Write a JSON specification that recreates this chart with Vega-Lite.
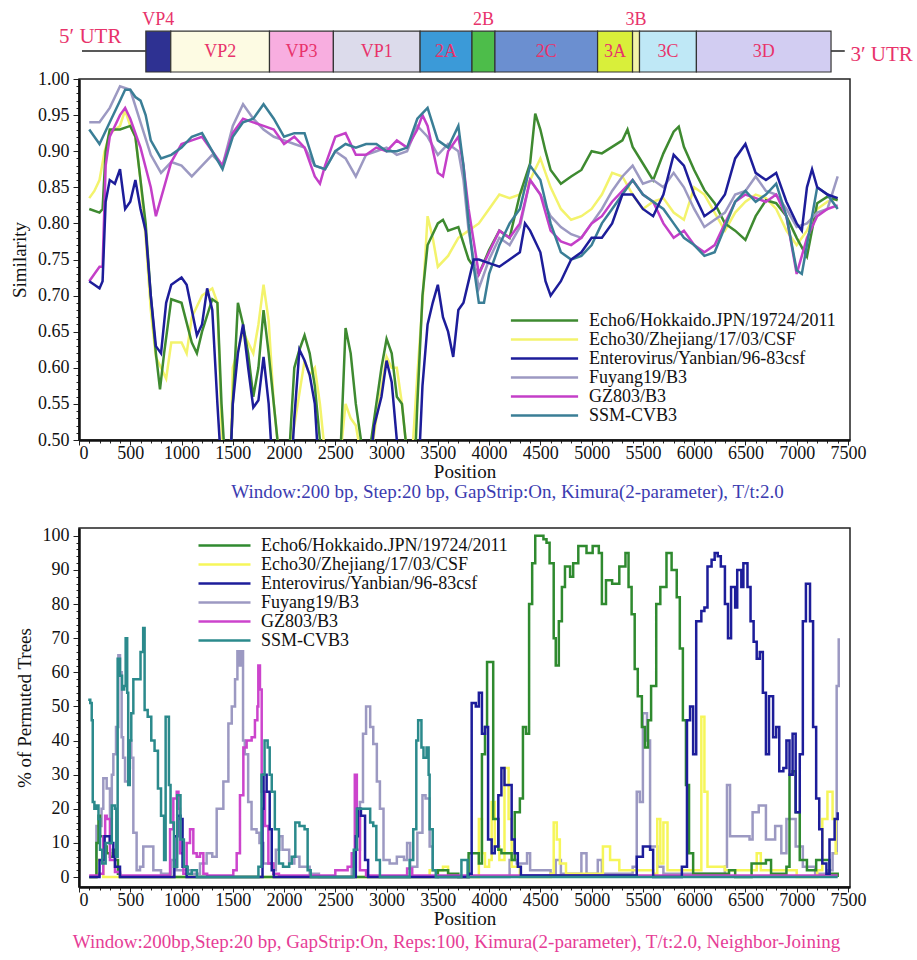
{
"$schema":"https://vega.github.io/schema/vega-lite/v6.json",
"padding":{"left":9,"top":0,"right":0,"bottom":0},
"config":{
"font":"Liberation Serif",
"view":{"stroke":"#222","strokeWidth":1.5},
"axis":{"domainColor":"#111","domainWidth":2.5,"tickColor":"#222","tickWidth":1,"labelColor":"#111","labelFont":"Liberation Serif","labelFontSize":18,"titleFont":"Liberation Serif","titleFontSize":19,"titleFontWeight":"normal","titleColor":"#111","grid":false,"labelOverlap":false},
"legend":{"title":null,"labelFont":"Liberation Serif","labelFontSize":18,"labelColor":"#111","symbolStrokeWidth":2.5,"rowPadding":0,"padding":0,"labelLimit":400,"symbolSize":256},
"title":{"font":"Liberation Serif","fontSize":19,"fontWeight":"normal"}
},
"datasets":{
"genes":[{"gene":"VP4","start":652,"end":895},{"gene":"VP2","start":895,"end":1858},{"gene":"VP3","start":1858,"end":2481},{"gene":"VP1","start":2481,"end":3327},{"gene":"2A","start":3327,"end":3833},{"gene":"2B","start":3833,"end":4057},{"gene":"2C","start":4057,"end":5058},{"gene":"3A","start":5058,"end":5399},{"gene":"3B","start":5399,"end":5467},{"gene":"3C","start":5467,"end":6022},{"gene":"3D","start":6022,"end":7335}],
"utr":[{"name":"5′ UTR","start":29,"end":652,"lx":110},{"name":"3′ UTR","start":7335,"end":7469,"lx":7525}],
"sim":[
{"s":"b","x":100,"y":0.835},{"s":"b","x":150,"y":0.845},{"s":"b","x":200,"y":0.86},{"s":"b","x":250,"y":0.9},{"s":"b","x":300,"y":0.925},{"s":"b","x":400,"y":0.935},{"s":"b","x":450,"y":0.957},{"s":"b","x":500,"y":0.935},{"s":"b","x":550,"y":0.92},{"s":"b","x":600,"y":0.86},{"s":"b","x":650,"y":0.78},{"s":"b","x":700,"y":0.68},{"s":"b","x":750,"y":0.615},{"s":"b","x":800,"y":0.6},{"s":"b","x":850,"y":0.585},{"s":"b","x":900,"y":0.635},{"s":"b","x":1000,"y":0.635},{"s":"b","x":1050,"y":0.62},{"s":"b","x":1100,"y":0.67},{"s":"b","x":1200,"y":0.7},{"s":"b","x":1300,"y":0.71},{"s":"b","x":1350,"y":0.69},{"s":"b","x":1400,"y":0.48},{"s":"b","x":1480,"y":0.48},{"s":"b","x":1500,"y":0.6},{"s":"b","x":1600,"y":0.65},{"s":"b","x":1700,"y":0.62},{"s":"b","x":1750,"y":0.66},{"s":"b","x":1800,"y":0.715},{"s":"b","x":1850,"y":0.665},{"s":"b","x":1900,"y":0.55},{"s":"b","x":1950,"y":0.48},{"s":"b","x":2050,"y":0.48},{"s":"b","x":2100,"y":0.52},{"s":"b","x":2200,"y":0.61},{"s":"b","x":2250,"y":0.59},{"s":"b","x":2300,"y":0.6},{"s":"b","x":2350,"y":0.55},{"s":"b","x":2400,"y":0.48},{"s":"b","x":2550,"y":0.48},{"s":"b","x":2600,"y":0.55},{"s":"b","x":2650,"y":0.53},{"s":"b","x":2700,"y":0.52},{"s":"b","x":2750,"y":0.48},{"s":"b","x":2850,"y":0.48},{"s":"b","x":2900,"y":0.53},{"s":"b","x":3000,"y":0.615},{"s":"b","x":3050,"y":0.6},{"s":"b","x":3100,"y":0.6},{"s":"b","x":3150,"y":0.55},{"s":"b","x":3200,"y":0.48},{"s":"b","x":3250,"y":0.48},{"s":"b","x":3300,"y":0.59},{"s":"b","x":3350,"y":0.69},{"s":"b","x":3400,"y":0.81},{"s":"b","x":3450,"y":0.78},{"s":"b","x":3500,"y":0.74},{"s":"b","x":3600,"y":0.755},{"s":"b","x":3700,"y":0.78},{"s":"b","x":3800,"y":0.79},{"s":"b","x":3900,"y":0.8},{"s":"b","x":4000,"y":0.82},{"s":"b","x":4100,"y":0.84},{"s":"b","x":4200,"y":0.835},{"s":"b","x":4300,"y":0.84},{"s":"b","x":4400,"y":0.86},{"s":"b","x":4500,"y":0.89},{"s":"b","x":4600,"y":0.85},{"s":"b","x":4700,"y":0.82},{"s":"b","x":4800,"y":0.805},{"s":"b","x":4900,"y":0.81},{"s":"b","x":5000,"y":0.82},{"s":"b","x":5100,"y":0.84},{"s":"b","x":5200,"y":0.87},{"s":"b","x":5300,"y":0.865},{"s":"b","x":5400,"y":0.84},{"s":"b","x":5500,"y":0.82},{"s":"b","x":5600,"y":0.83},{"s":"b","x":5700,"y":0.835},{"s":"b","x":5800,"y":0.815},{"s":"b","x":5900,"y":0.805},{"s":"b","x":6000,"y":0.85},{"s":"b","x":6100,"y":0.84},{"s":"b","x":6200,"y":0.815},{"s":"b","x":6300,"y":0.79},{"s":"b","x":6400,"y":0.815},{"s":"b","x":6500,"y":0.83},{"s":"b","x":6600,"y":0.84},{"s":"b","x":6700,"y":0.835},{"s":"b","x":6800,"y":0.82},{"s":"b","x":6900,"y":0.79},{"s":"b","x":7000,"y":0.77},{"s":"b","x":7100,"y":0.79},{"s":"b","x":7200,"y":0.82},{"s":"b","x":7300,"y":0.83},{"s":"b","x":7400,"y":0.835},
{"s":"a","x":100,"y":0.82},{"s":"a","x":200,"y":0.815},{"s":"a","x":230,"y":0.82},{"s":"a","x":260,"y":0.9},{"s":"a","x":300,"y":0.93},{"s":"a","x":400,"y":0.93},{"s":"a","x":500,"y":0.935},{"s":"a","x":550,"y":0.92},{"s":"a","x":600,"y":0.86},{"s":"a","x":650,"y":0.8},{"s":"a","x":700,"y":0.7},{"s":"a","x":750,"y":0.62},{"s":"a","x":790,"y":0.57},{"s":"a","x":830,"y":0.62},{"s":"a","x":900,"y":0.695},{"s":"a","x":1000,"y":0.69},{"s":"a","x":1100,"y":0.635},{"s":"a","x":1150,"y":0.62},{"s":"a","x":1200,"y":0.65},{"s":"a","x":1300,"y":0.695},{"s":"a","x":1350,"y":0.69},{"s":"a","x":1390,"y":0.55},{"s":"a","x":1420,"y":0.48},{"s":"a","x":1480,"y":0.48},{"s":"a","x":1500,"y":0.55},{"s":"a","x":1550,"y":0.69},{"s":"a","x":1600,"y":0.66},{"s":"a","x":1650,"y":0.62},{"s":"a","x":1700,"y":0.56},{"s":"a","x":1750,"y":0.6},{"s":"a","x":1800,"y":0.68},{"s":"a","x":1850,"y":0.62},{"s":"a","x":1900,"y":0.55},{"s":"a","x":1950,"y":0.48},{"s":"a","x":2050,"y":0.48},{"s":"a","x":2100,"y":0.6},{"s":"a","x":2150,"y":0.625},{"s":"a","x":2200,"y":0.645},{"s":"a","x":2250,"y":0.62},{"s":"a","x":2300,"y":0.575},{"s":"a","x":2350,"y":0.5},{"s":"a","x":2400,"y":0.48},{"s":"a","x":2550,"y":0.48},{"s":"a","x":2600,"y":0.655},{"s":"a","x":2650,"y":0.62},{"s":"a","x":2700,"y":0.55},{"s":"a","x":2750,"y":0.5},{"s":"a","x":2800,"y":0.48},{"s":"a","x":2850,"y":0.5},{"s":"a","x":2900,"y":0.55},{"s":"a","x":2950,"y":0.6},{"s":"a","x":3000,"y":0.64},{"s":"a","x":3050,"y":0.62},{"s":"a","x":3100,"y":0.56},{"s":"a","x":3150,"y":0.55},{"s":"a","x":3200,"y":0.48},{"s":"a","x":3280,"y":0.48},{"s":"a","x":3300,"y":0.55},{"s":"a","x":3350,"y":0.7},{"s":"a","x":3400,"y":0.77},{"s":"a","x":3500,"y":0.8},{"s":"a","x":3550,"y":0.805},{"s":"a","x":3600,"y":0.79},{"s":"a","x":3700,"y":0.795},{"s":"a","x":3800,"y":0.75},{"s":"a","x":3900,"y":0.73},{"s":"a","x":4000,"y":0.763},{"s":"a","x":4100,"y":0.79},{"s":"a","x":4200,"y":0.78},{"s":"a","x":4300,"y":0.84},{"s":"a","x":4400,"y":0.883},{"s":"a","x":4450,"y":0.952},{"s":"a","x":4500,"y":0.93},{"s":"a","x":4550,"y":0.9},{"s":"a","x":4600,"y":0.874},{"s":"a","x":4700,"y":0.855},{"s":"a","x":4800,"y":0.865},{"s":"a","x":4900,"y":0.874},{"s":"a","x":5000,"y":0.9},{"s":"a","x":5100,"y":0.897},{"s":"a","x":5200,"y":0.906},{"s":"a","x":5300,"y":0.915},{"s":"a","x":5350,"y":0.93},{"s":"a","x":5400,"y":0.906},{"s":"a","x":5500,"y":0.883},{"s":"a","x":5600,"y":0.86},{"s":"a","x":5700,"y":0.897},{"s":"a","x":5800,"y":0.927},{"s":"a","x":5850,"y":0.934},{"s":"a","x":5900,"y":0.906},{"s":"a","x":6000,"y":0.874},{"s":"a","x":6100,"y":0.846},{"s":"a","x":6200,"y":0.828},{"s":"a","x":6300,"y":0.8},{"s":"a","x":6400,"y":0.79},{"s":"a","x":6500,"y":0.777},{"s":"a","x":6600,"y":0.81},{"s":"a","x":6700,"y":0.832},{"s":"a","x":6800,"y":0.828},{"s":"a","x":6900,"y":0.81},{"s":"a","x":7000,"y":0.78},{"s":"a","x":7100,"y":0.754},{"s":"a","x":7200,"y":0.828},{"s":"a","x":7300,"y":0.837},{"s":"a","x":7400,"y":0.832},
{"s":"d","x":100,"y":0.94},{"s":"d","x":200,"y":0.94},{"s":"d","x":300,"y":0.96},{"s":"d","x":400,"y":0.99},{"s":"d","x":500,"y":0.985},{"s":"d","x":600,"y":0.94},{"s":"d","x":700,"y":0.895},{"s":"d","x":800,"y":0.87},{"s":"d","x":900,"y":0.885},{"s":"d","x":1000,"y":0.88},{"s":"d","x":1100,"y":0.865},{"s":"d","x":1200,"y":0.88},{"s":"d","x":1300,"y":0.895},{"s":"d","x":1400,"y":0.88},{"s":"d","x":1500,"y":0.935},{"s":"d","x":1600,"y":0.965},{"s":"d","x":1700,"y":0.945},{"s":"d","x":1800,"y":0.93},{"s":"d","x":1900,"y":0.92},{"s":"d","x":2000,"y":0.915},{"s":"d","x":2100,"y":0.91},{"s":"d","x":2200,"y":0.905},{"s":"d","x":2300,"y":0.88},{"s":"d","x":2400,"y":0.875},{"s":"d","x":2500,"y":0.9},{"s":"d","x":2600,"y":0.89},{"s":"d","x":2700,"y":0.865},{"s":"d","x":2800,"y":0.895},{"s":"d","x":2900,"y":0.9},{"s":"d","x":3000,"y":0.905},{"s":"d","x":3100,"y":0.895},{"s":"d","x":3200,"y":0.9},{"s":"d","x":3300,"y":0.935},{"s":"d","x":3400,"y":0.92},{"s":"d","x":3500,"y":0.895},{"s":"d","x":3600,"y":0.91},{"s":"d","x":3700,"y":0.9},{"s":"d","x":3750,"y":0.86},{"s":"d","x":3800,"y":0.79},{"s":"d","x":3900,"y":0.71},{"s":"d","x":4000,"y":0.75},{"s":"d","x":4100,"y":0.78},{"s":"d","x":4200,"y":0.77},{"s":"d","x":4300,"y":0.795},{"s":"d","x":4400,"y":0.86},{"s":"d","x":4500,"y":0.84},{"s":"d","x":4600,"y":0.81},{"s":"d","x":4700,"y":0.795},{"s":"d","x":4800,"y":0.785},{"s":"d","x":4900,"y":0.78},{"s":"d","x":5000,"y":0.8},{"s":"d","x":5100,"y":0.82},{"s":"d","x":5200,"y":0.845},{"s":"d","x":5300,"y":0.865},{"s":"d","x":5400,"y":0.88},{"s":"d","x":5500,"y":0.855},{"s":"d","x":5600,"y":0.86},{"s":"d","x":5700,"y":0.85},{"s":"d","x":5800,"y":0.87},{"s":"d","x":5900,"y":0.85},{"s":"d","x":6000,"y":0.82},{"s":"d","x":6100,"y":0.795},{"s":"d","x":6200,"y":0.805},{"s":"d","x":6300,"y":0.815},{"s":"d","x":6400,"y":0.84},{"s":"d","x":6500,"y":0.845},{"s":"d","x":6600,"y":0.865},{"s":"d","x":6700,"y":0.845},{"s":"d","x":6800,"y":0.84},{"s":"d","x":6900,"y":0.82},{"s":"d","x":7000,"y":0.795},{"s":"d","x":7100,"y":0.8},{"s":"d","x":7200,"y":0.815},{"s":"d","x":7300,"y":0.82},{"s":"d","x":7400,"y":0.865},
{"s":"e","x":100,"y":0.72},{"s":"e","x":150,"y":0.73},{"s":"e","x":200,"y":0.74},{"s":"e","x":230,"y":0.74},{"s":"e","x":260,"y":0.88},{"s":"e","x":300,"y":0.92},{"s":"e","x":400,"y":0.95},{"s":"e","x":450,"y":0.96},{"s":"e","x":500,"y":0.945},{"s":"e","x":600,"y":0.905},{"s":"e","x":700,"y":0.85},{"s":"e","x":750,"y":0.81},{"s":"e","x":800,"y":0.835},{"s":"e","x":900,"y":0.885},{"s":"e","x":1000,"y":0.91},{"s":"e","x":1100,"y":0.915},{"s":"e","x":1200,"y":0.92},{"s":"e","x":1300,"y":0.9},{"s":"e","x":1400,"y":0.88},{"s":"e","x":1500,"y":0.925},{"s":"e","x":1600,"y":0.945},{"s":"e","x":1700,"y":0.94},{"s":"e","x":1800,"y":0.935},{"s":"e","x":1900,"y":0.93},{"s":"e","x":2000,"y":0.91},{"s":"e","x":2100,"y":0.92},{"s":"e","x":2200,"y":0.905},{"s":"e","x":2300,"y":0.865},{"s":"e","x":2350,"y":0.855},{"s":"e","x":2400,"y":0.88},{"s":"e","x":2500,"y":0.92},{"s":"e","x":2600,"y":0.925},{"s":"e","x":2700,"y":0.895},{"s":"e","x":2800,"y":0.895},{"s":"e","x":2900,"y":0.905},{"s":"e","x":3000,"y":0.9},{"s":"e","x":3100,"y":0.915},{"s":"e","x":3200,"y":0.905},{"s":"e","x":3300,"y":0.93},{"s":"e","x":3350,"y":0.95},{"s":"e","x":3400,"y":0.935},{"s":"e","x":3500,"y":0.87},{"s":"e","x":3550,"y":0.865},{"s":"e","x":3600,"y":0.9},{"s":"e","x":3700,"y":0.92},{"s":"e","x":3750,"y":0.88},{"s":"e","x":3800,"y":0.82},{"s":"e","x":3900,"y":0.73},{"s":"e","x":4000,"y":0.76},{"s":"e","x":4100,"y":0.79},{"s":"e","x":4200,"y":0.78},{"s":"e","x":4300,"y":0.8},{"s":"e","x":4400,"y":0.86},{"s":"e","x":4500,"y":0.84},{"s":"e","x":4600,"y":0.79},{"s":"e","x":4700,"y":0.775},{"s":"e","x":4800,"y":0.77},{"s":"e","x":4900,"y":0.78},{"s":"e","x":5000,"y":0.8},{"s":"e","x":5100,"y":0.81},{"s":"e","x":5200,"y":0.83},{"s":"e","x":5300,"y":0.845},{"s":"e","x":5400,"y":0.86},{"s":"e","x":5500,"y":0.84},{"s":"e","x":5600,"y":0.83},{"s":"e","x":5700,"y":0.8},{"s":"e","x":5800,"y":0.78},{"s":"e","x":5900,"y":0.79},{"s":"e","x":6000,"y":0.77},{"s":"e","x":6100,"y":0.76},{"s":"e","x":6200,"y":0.77},{"s":"e","x":6300,"y":0.8},{"s":"e","x":6400,"y":0.83},{"s":"e","x":6500,"y":0.84},{"s":"e","x":6600,"y":0.835},{"s":"e","x":6700,"y":0.83},{"s":"e","x":6800,"y":0.84},{"s":"e","x":6900,"y":0.81},{"s":"e","x":7000,"y":0.73},{"s":"e","x":7100,"y":0.78},{"s":"e","x":7200,"y":0.81},{"s":"e","x":7300,"y":0.82},{"s":"e","x":7400,"y":0.825},
{"s":"f","x":100,"y":0.93},{"s":"f","x":200,"y":0.91},{"s":"f","x":300,"y":0.94},{"s":"f","x":400,"y":0.97},{"s":"f","x":450,"y":0.985},{"s":"f","x":500,"y":0.985},{"s":"f","x":550,"y":0.975},{"s":"f","x":600,"y":0.97},{"s":"f","x":650,"y":0.95},{"s":"f","x":700,"y":0.915},{"s":"f","x":800,"y":0.89},{"s":"f","x":900,"y":0.895},{"s":"f","x":1000,"y":0.905},{"s":"f","x":1100,"y":0.92},{"s":"f","x":1200,"y":0.925},{"s":"f","x":1300,"y":0.9},{"s":"f","x":1400,"y":0.875},{"s":"f","x":1500,"y":0.92},{"s":"f","x":1600,"y":0.94},{"s":"f","x":1700,"y":0.945},{"s":"f","x":1800,"y":0.965},{"s":"f","x":1900,"y":0.945},{"s":"f","x":2000,"y":0.92},{"s":"f","x":2100,"y":0.925},{"s":"f","x":2200,"y":0.925},{"s":"f","x":2300,"y":0.88},{"s":"f","x":2400,"y":0.875},{"s":"f","x":2500,"y":0.9},{"s":"f","x":2600,"y":0.91},{"s":"f","x":2700,"y":0.905},{"s":"f","x":2800,"y":0.91},{"s":"f","x":2900,"y":0.91},{"s":"f","x":3000,"y":0.9},{"s":"f","x":3100,"y":0.9},{"s":"f","x":3200,"y":0.905},{"s":"f","x":3300,"y":0.945},{"s":"f","x":3400,"y":0.96},{"s":"f","x":3500,"y":0.915},{"s":"f","x":3600,"y":0.905},{"s":"f","x":3700,"y":0.935},{"s":"f","x":3750,"y":0.88},{"s":"f","x":3800,"y":0.8},{"s":"f","x":3850,"y":0.74},{"s":"f","x":3900,"y":0.69},{"s":"f","x":3950,"y":0.69},{"s":"f","x":4000,"y":0.73},{"s":"f","x":4100,"y":0.77},{"s":"f","x":4200,"y":0.8},{"s":"f","x":4300,"y":0.82},{"s":"f","x":4400,"y":0.88},{"s":"f","x":4450,"y":0.87},{"s":"f","x":4500,"y":0.86},{"s":"f","x":4600,"y":0.8},{"s":"f","x":4700,"y":0.76},{"s":"f","x":4800,"y":0.75},{"s":"f","x":4900,"y":0.755},{"s":"f","x":5000,"y":0.77},{"s":"f","x":5100,"y":0.8},{"s":"f","x":5200,"y":0.82},{"s":"f","x":5300,"y":0.84},{"s":"f","x":5400,"y":0.86},{"s":"f","x":5500,"y":0.84},{"s":"f","x":5600,"y":0.83},{"s":"f","x":5700,"y":0.82},{"s":"f","x":5800,"y":0.8},{"s":"f","x":5900,"y":0.78},{"s":"f","x":6000,"y":0.77},{"s":"f","x":6100,"y":0.755},{"s":"f","x":6200,"y":0.76},{"s":"f","x":6300,"y":0.795},{"s":"f","x":6400,"y":0.83},{"s":"f","x":6500,"y":0.845},{"s":"f","x":6600,"y":0.83},{"s":"f","x":6700,"y":0.84},{"s":"f","x":6800,"y":0.855},{"s":"f","x":6900,"y":0.81},{"s":"f","x":7000,"y":0.735},{"s":"f","x":7050,"y":0.73},{"s":"f","x":7100,"y":0.77},{"s":"f","x":7200,"y":0.85},{"s":"f","x":7300,"y":0.84},{"s":"f","x":7400,"y":0.82},
{"s":"c","x":100,"y":0.72},{"s":"c","x":150,"y":0.715},{"s":"c","x":200,"y":0.71},{"s":"c","x":230,"y":0.72},{"s":"c","x":260,"y":0.83},{"s":"c","x":300,"y":0.86},{"s":"c","x":350,"y":0.855},{"s":"c","x":400,"y":0.875},{"s":"c","x":450,"y":0.82},{"s":"c","x":500,"y":0.83},{"s":"c","x":550,"y":0.86},{"s":"c","x":600,"y":0.82},{"s":"c","x":650,"y":0.79},{"s":"c","x":700,"y":0.7},{"s":"c","x":750,"y":0.63},{"s":"c","x":800,"y":0.62},{"s":"c","x":850,"y":0.69},{"s":"c","x":900,"y":0.715},{"s":"c","x":1000,"y":0.725},{"s":"c","x":1050,"y":0.715},{"s":"c","x":1100,"y":0.68},{"s":"c","x":1150,"y":0.645},{"s":"c","x":1200,"y":0.66},{"s":"c","x":1250,"y":0.71},{"s":"c","x":1300,"y":0.68},{"s":"c","x":1350,"y":0.55},{"s":"c","x":1380,"y":0.48},{"s":"c","x":1480,"y":0.48},{"s":"c","x":1500,"y":0.55},{"s":"c","x":1550,"y":0.62},{"s":"c","x":1600,"y":0.66},{"s":"c","x":1650,"y":0.6},{"s":"c","x":1700,"y":0.545},{"s":"c","x":1750,"y":0.555},{"s":"c","x":1800,"y":0.615},{"s":"c","x":1850,"y":0.55},{"s":"c","x":1880,"y":0.48},{"s":"c","x":2080,"y":0.48},{"s":"c","x":2100,"y":0.53},{"s":"c","x":2150,"y":0.625},{"s":"c","x":2200,"y":0.61},{"s":"c","x":2250,"y":0.59},{"s":"c","x":2300,"y":0.55},{"s":"c","x":2330,"y":0.48},{"s":"c","x":2850,"y":0.48},{"s":"c","x":2880,"y":0.52},{"s":"c","x":2950,"y":0.56},{"s":"c","x":3000,"y":0.61},{"s":"c","x":3050,"y":0.58},{"s":"c","x":3100,"y":0.5},{"s":"c","x":3130,"y":0.48},{"s":"c","x":3320,"y":0.48},{"s":"c","x":3350,"y":0.575},{"s":"c","x":3400,"y":0.66},{"s":"c","x":3450,"y":0.69},{"s":"c","x":3500,"y":0.715},{"s":"c","x":3550,"y":0.67},{"s":"c","x":3600,"y":0.65},{"s":"c","x":3650,"y":0.615},{"s":"c","x":3700,"y":0.68},{"s":"c","x":3750,"y":0.69},{"s":"c","x":3800,"y":0.72},{"s":"c","x":3850,"y":0.75},{"s":"c","x":3900,"y":0.75},{"s":"c","x":4000,"y":0.745},{"s":"c","x":4100,"y":0.74},{"s":"c","x":4200,"y":0.75},{"s":"c","x":4300,"y":0.76},{"s":"c","x":4350,"y":0.8},{"s":"c","x":4400,"y":0.79},{"s":"c","x":4500,"y":0.76},{"s":"c","x":4550,"y":0.72},{"s":"c","x":4600,"y":0.7},{"s":"c","x":4700,"y":0.72},{"s":"c","x":4800,"y":0.75},{"s":"c","x":4900,"y":0.76},{"s":"c","x":5000,"y":0.78},{"s":"c","x":5100,"y":0.78},{"s":"c","x":5200,"y":0.8},{"s":"c","x":5300,"y":0.84},{"s":"c","x":5400,"y":0.84},{"s":"c","x":5500,"y":0.82},{"s":"c","x":5600,"y":0.81},{"s":"c","x":5700,"y":0.84},{"s":"c","x":5800,"y":0.895},{"s":"c","x":5900,"y":0.88},{"s":"c","x":6000,"y":0.84},{"s":"c","x":6100,"y":0.81},{"s":"c","x":6200,"y":0.82},{"s":"c","x":6300,"y":0.84},{"s":"c","x":6400,"y":0.89},{"s":"c","x":6500,"y":0.91},{"s":"c","x":6600,"y":0.87},{"s":"c","x":6700,"y":0.86},{"s":"c","x":6800,"y":0.87},{"s":"c","x":6900,"y":0.83},{"s":"c","x":7000,"y":0.8},{"s":"c","x":7050,"y":0.79},{"s":"c","x":7100,"y":0.85},{"s":"c","x":7150,"y":0.875},{"s":"c","x":7200,"y":0.85},{"s":"c","x":7300,"y":0.84},{"s":"c","x":7400,"y":0.835}
],
"boot":[
{"s":"d","x":100,"y":0},{"s":"d","x":160,"y":0},{"s":"d","x":170,"y":15},{"s":"d","x":200,"y":15},{"s":"d","x":220,"y":20},{"s":"d","x":237,"y":29},{"s":"d","x":270,"y":26},{"s":"d","x":302,"y":17},{"s":"d","x":320,"y":30},{"s":"d","x":335,"y":36},{"s":"d","x":361,"y":44},{"s":"d","x":384,"y":65},{"s":"d","x":400,"y":60},{"s":"d","x":416,"y":41},{"s":"d","x":430,"y":35},{"s":"d","x":449,"y":28},{"s":"d","x":481,"y":32},{"s":"d","x":497,"y":40},{"s":"d","x":510,"y":35},{"s":"d","x":530,"y":13},{"s":"d","x":562,"y":2},{"s":"d","x":595,"y":3},{"s":"d","x":627,"y":9},{"s":"d","x":660,"y":9},{"s":"d","x":692,"y":9},{"s":"d","x":725,"y":2},{"s":"d","x":800,"y":1},{"s":"d","x":900,"y":5},{"s":"d","x":950,"y":2},{"s":"d","x":1050,"y":2},{"s":"d","x":1100,"y":1},{"s":"d","x":1180,"y":4},{"s":"d","x":1245,"y":7},{"s":"d","x":1300,"y":6},{"s":"d","x":1343,"y":20},{"s":"d","x":1408,"y":28},{"s":"d","x":1457,"y":45},{"s":"d","x":1490,"y":50},{"s":"d","x":1522,"y":58},{"s":"d","x":1545,"y":75},{"s":"d","x":1560,"y":62},{"s":"d","x":1584,"y":75},{"s":"d","x":1600,"y":40},{"s":"d","x":1617,"y":36},{"s":"d","x":1650,"y":22},{"s":"d","x":1683,"y":14},{"s":"d","x":1732,"y":13},{"s":"d","x":1760,"y":10},{"s":"d","x":1798,"y":4},{"s":"d","x":1900,"y":2},{"s":"d","x":1920,"y":8},{"s":"d","x":1955,"y":12},{"s":"d","x":1985,"y":8},{"s":"d","x":2050,"y":4},{"s":"d","x":2100,"y":6},{"s":"d","x":2150,"y":3},{"s":"d","x":2250,"y":1},{"s":"d","x":2340,"y":0},{"s":"d","x":2600,"y":0},{"s":"d","x":2660,"y":3},{"s":"d","x":2700,"y":8},{"s":"d","x":2740,"y":22},{"s":"d","x":2770,"y":42},{"s":"d","x":2800,"y":50},{"s":"d","x":2840,"y":44},{"s":"d","x":2870,"y":39},{"s":"d","x":2905,"y":28},{"s":"d","x":2935,"y":20},{"s":"d","x":2970,"y":5},{"s":"d","x":3030,"y":4},{"s":"d","x":3100,"y":6},{"s":"d","x":3170,"y":5},{"s":"d","x":3200,"y":10},{"s":"d","x":3230,"y":3},{"s":"d","x":3300,"y":13},{"s":"d","x":3350,"y":24},{"s":"d","x":3380,"y":23},{"s":"d","x":3420,"y":9},{"s":"d","x":3450,"y":2},{"s":"d","x":3500,"y":0},{"s":"d","x":4150,"y":0},{"s":"d","x":4200,"y":5},{"s":"d","x":4270,"y":4},{"s":"d","x":4370,"y":7},{"s":"d","x":4400,"y":2},{"s":"d","x":4600,"y":1},{"s":"d","x":4650,"y":5},{"s":"d","x":4700,"y":1},{"s":"d","x":4900,"y":7},{"s":"d","x":4950,"y":1},{"s":"d","x":5060,"y":5},{"s":"d","x":5100,"y":1},{"s":"d","x":5400,"y":3},{"s":"d","x":5440,"y":25},{"s":"d","x":5470,"y":22},{"s":"d","x":5500,"y":48},{"s":"d","x":5540,"y":40},{"s":"d","x":5570,"y":9},{"s":"d","x":5640,"y":3},{"s":"d","x":5700,"y":1},{"s":"d","x":6300,"y":3},{"s":"d","x":6320,"y":27},{"s":"d","x":6350,"y":12},{"s":"d","x":6480,"y":12},{"s":"d","x":6540,"y":11},{"s":"d","x":6570,"y":19},{"s":"d","x":6630,"y":21},{"s":"d","x":6700,"y":11},{"s":"d","x":6790,"y":15},{"s":"d","x":6850,"y":7},{"s":"d","x":6900,"y":17},{"s":"d","x":6960,"y":17},{"s":"d","x":6990,"y":9},{"s":"d","x":7060,"y":3},{"s":"d","x":7180,"y":1},{"s":"d","x":7300,"y":2},{"s":"d","x":7350,"y":7},{"s":"d","x":7390,"y":56},{"s":"d","x":7410,"y":70},
{"s":"b","x":100,"y":0},{"s":"b","x":160,"y":0},{"s":"b","x":170,"y":5},{"s":"b","x":220,"y":5},{"s":"b","x":237,"y":0},{"s":"b","x":3400,"y":0},{"s":"b","x":3420,"y":2},{"s":"b","x":3550,"y":3},{"s":"b","x":3600,"y":0},{"s":"b","x":3870,"y":0},{"s":"b","x":3900,"y":17},{"s":"b","x":3930,"y":7},{"s":"b","x":3960,"y":3},{"s":"b","x":4000,"y":5},{"s":"b","x":4025,"y":22},{"s":"b","x":4055,"y":9},{"s":"b","x":4100,"y":5},{"s":"b","x":4150,"y":32},{"s":"b","x":4190,"y":17},{"s":"b","x":4220,"y":3},{"s":"b","x":4300,"y":0},{"s":"b","x":4600,"y":1},{"s":"b","x":4630,"y":16},{"s":"b","x":4660,"y":11},{"s":"b","x":4690,"y":4},{"s":"b","x":4750,"y":1},{"s":"b","x":5080,"y":1},{"s":"b","x":5110,"y":9},{"s":"b","x":5180,"y":5},{"s":"b","x":5200,"y":5},{"s":"b","x":5270,"y":2},{"s":"b","x":5600,"y":1},{"s":"b","x":5640,"y":17},{"s":"b","x":5670,"y":4},{"s":"b","x":5700,"y":16},{"s":"b","x":5740,"y":2},{"s":"b","x":6050,"y":2},{"s":"b","x":6070,"y":47},{"s":"b","x":6100,"y":25},{"s":"b","x":6130,"y":3},{"s":"b","x":6300,"y":2},{"s":"b","x":6610,"y":7},{"s":"b","x":6650,"y":2},{"s":"b","x":6830,"y":2},{"s":"b","x":6900,"y":2},{"s":"b","x":7000,"y":0},{"s":"b","x":7200,"y":2},{"s":"b","x":7250,"y":17},{"s":"b","x":7300,"y":25},{"s":"b","x":7350,"y":17},{"s":"b","x":7380,"y":7},{"s":"b","x":7400,"y":7},
{"s":"a","x":100,"y":0},{"s":"a","x":160,"y":0},{"s":"a","x":170,"y":10},{"s":"a","x":190,"y":18},{"s":"a","x":205,"y":12},{"s":"a","x":237,"y":9},{"s":"a","x":270,"y":7},{"s":"a","x":302,"y":6},{"s":"a","x":330,"y":8},{"s":"a","x":351,"y":5},{"s":"a","x":380,"y":1},{"s":"a","x":400,"y":0},{"s":"a","x":3450,"y":0},{"s":"a","x":3500,"y":2},{"s":"a","x":3600,"y":1},{"s":"a","x":3700,"y":0},{"s":"a","x":3780,"y":0},{"s":"a","x":3800,"y":7},{"s":"a","x":3870,"y":7},{"s":"a","x":3900,"y":4},{"s":"a","x":3930,"y":36},{"s":"a","x":3960,"y":44},{"s":"a","x":3980,"y":63},{"s":"a","x":4025,"y":63},{"s":"a","x":4040,"y":17},{"s":"a","x":4090,"y":8},{"s":"a","x":4120,"y":7},{"s":"a","x":4220,"y":5},{"s":"a","x":4250,"y":19},{"s":"a","x":4300,"y":23},{"s":"a","x":4330,"y":44},{"s":"a","x":4360,"y":42},{"s":"a","x":4390,"y":80},{"s":"a","x":4420,"y":92},{"s":"a","x":4450,"y":100},{"s":"a","x":4530,"y":99},{"s":"a","x":4560,"y":98},{"s":"a","x":4590,"y":92},{"s":"a","x":4630,"y":70},{"s":"a","x":4650,"y":62},{"s":"a","x":4680,"y":75},{"s":"a","x":4710,"y":85},{"s":"a","x":4740,"y":91},{"s":"a","x":4790,"y":88},{"s":"a","x":4820,"y":92},{"s":"a","x":4870,"y":97},{"s":"a","x":4950,"y":95},{"s":"a","x":5010,"y":97},{"s":"a","x":5070,"y":95},{"s":"a","x":5100,"y":80},{"s":"a","x":5140,"y":87},{"s":"a","x":5200,"y":86},{"s":"a","x":5270,"y":91},{"s":"a","x":5330,"y":95},{"s":"a","x":5360,"y":85},{"s":"a","x":5390,"y":77},{"s":"a","x":5420,"y":61},{"s":"a","x":5450,"y":53},{"s":"a","x":5490,"y":44},{"s":"a","x":5520,"y":38},{"s":"a","x":5550,"y":46},{"s":"a","x":5580,"y":56},{"s":"a","x":5630,"y":80},{"s":"a","x":5670,"y":85},{"s":"a","x":5730,"y":95},{"s":"a","x":5780,"y":90},{"s":"a","x":5830,"y":82},{"s":"a","x":5860,"y":67},{"s":"a","x":5890,"y":46},{"s":"a","x":5920,"y":27},{"s":"a","x":5950,"y":7},{"s":"a","x":5990,"y":1},{"s":"a","x":6300,"y":1},{"s":"a","x":6340,"y":2},{"s":"a","x":6400,"y":0},{"s":"a","x":6520,"y":0},{"s":"a","x":6560,"y":4},{"s":"a","x":6700,"y":5},{"s":"a","x":6750,"y":1},{"s":"a","x":6900,"y":3},{"s":"a","x":6930,"y":30},{"s":"a","x":6960,"y":31},{"s":"a","x":6990,"y":19},{"s":"a","x":7030,"y":5},{"s":"a","x":7100,"y":2},{"s":"a","x":7190,"y":5},{"s":"a","x":7290,"y":5},{"s":"a","x":7320,"y":1},{"s":"a","x":7400,"y":0},
{"s":"e","x":100,"y":0.5},{"s":"e","x":200,"y":1},{"s":"e","x":237,"y":12},{"s":"e","x":255,"y":18},{"s":"e","x":270,"y":17},{"s":"e","x":302,"y":5},{"s":"e","x":351,"y":1.5},{"s":"e","x":400,"y":0.5},{"s":"e","x":850,"y":0.5},{"s":"e","x":888,"y":14},{"s":"e","x":920,"y":23},{"s":"e","x":953,"y":25},{"s":"e","x":970,"y":20},{"s":"e","x":985,"y":7},{"s":"e","x":1018,"y":1},{"s":"e","x":1050,"y":10},{"s":"e","x":1083,"y":14},{"s":"e","x":1115,"y":7},{"s":"e","x":1148,"y":6},{"s":"e","x":1180,"y":7},{"s":"e","x":1213,"y":1},{"s":"e","x":1250,"y":0.5},{"s":"e","x":1470,"y":0.5},{"s":"e","x":1505,"y":2},{"s":"e","x":1538,"y":7},{"s":"e","x":1570,"y":24},{"s":"e","x":1603,"y":38},{"s":"e","x":1635,"y":40},{"s":"e","x":1684,"y":41},{"s":"e","x":1716,"y":46},{"s":"e","x":1740,"y":50},{"s":"e","x":1749,"y":62},{"s":"e","x":1765,"y":55},{"s":"e","x":1782,"y":25},{"s":"e","x":1814,"y":15},{"s":"e","x":1847,"y":4},{"s":"e","x":1895,"y":1},{"s":"e","x":1950,"y":0.5},{"s":"e","x":2450,"y":0.5},{"s":"e","x":2500,"y":2},{"s":"e","x":2620,"y":3},{"s":"e","x":2660,"y":7},{"s":"e","x":2690,"y":30},{"s":"e","x":2710,"y":19},{"s":"e","x":2740,"y":2},{"s":"e","x":2800,"y":0.5},{"s":"e","x":3100,"y":0.5},{"s":"e","x":3200,"y":2.5},{"s":"e","x":3250,"y":0.5},{"s":"e","x":7400,"y":0.5},
{"s":"c","x":100,"y":0},{"s":"c","x":170,"y":0},{"s":"c","x":200,"y":5},{"s":"c","x":250,"y":12},{"s":"c","x":300,"y":10},{"s":"c","x":335,"y":6},{"s":"c","x":351,"y":3},{"s":"c","x":400,"y":0},{"s":"c","x":900,"y":0},{"s":"c","x":930,"y":12},{"s":"c","x":960,"y":18},{"s":"c","x":990,"y":17},{"s":"c","x":1010,"y":3},{"s":"c","x":1050,"y":0},{"s":"c","x":1770,"y":0},{"s":"c","x":1790,"y":20},{"s":"c","x":1800,"y":30},{"s":"c","x":1830,"y":25},{"s":"c","x":1860,"y":14},{"s":"c","x":1880,"y":2},{"s":"c","x":1900,"y":0},{"s":"c","x":2680,"y":0},{"s":"c","x":2700,"y":12},{"s":"c","x":2720,"y":20},{"s":"c","x":2750,"y":18},{"s":"c","x":2790,"y":5},{"s":"c","x":2820,"y":0},{"s":"c","x":3780,"y":0},{"s":"c","x":3800,"y":1},{"s":"c","x":3830,"y":51},{"s":"c","x":3870,"y":50},{"s":"c","x":3900,"y":54},{"s":"c","x":3930,"y":42},{"s":"c","x":3960,"y":44},{"s":"c","x":3990,"y":11},{"s":"c","x":4025,"y":7},{"s":"c","x":4055,"y":9},{"s":"c","x":4090,"y":24},{"s":"c","x":4120,"y":32},{"s":"c","x":4150,"y":27},{"s":"c","x":4190,"y":27},{"s":"c","x":4220,"y":11},{"s":"c","x":4250,"y":7},{"s":"c","x":4280,"y":3},{"s":"c","x":4310,"y":0.5},{"s":"c","x":5420,"y":0.5},{"s":"c","x":5440,"y":6},{"s":"c","x":5500,"y":9},{"s":"c","x":5570,"y":8},{"s":"c","x":5600,"y":0},{"s":"c","x":5880,"y":3},{"s":"c","x":5930,"y":46},{"s":"c","x":5960,"y":50},{"s":"c","x":5990,"y":36},{"s":"c","x":6020,"y":75},{"s":"c","x":6070,"y":78},{"s":"c","x":6100,"y":79},{"s":"c","x":6130,"y":91},{"s":"c","x":6170,"y":93},{"s":"c","x":6200,"y":95},{"s":"c","x":6230,"y":94},{"s":"c","x":6260,"y":91},{"s":"c","x":6300,"y":80},{"s":"c","x":6330,"y":70},{"s":"c","x":6360,"y":85},{"s":"c","x":6400,"y":79},{"s":"c","x":6420,"y":90},{"s":"c","x":6460,"y":85},{"s":"c","x":6480,"y":92},{"s":"c","x":6520,"y":85},{"s":"c","x":6550,"y":75},{"s":"c","x":6580,"y":69},{"s":"c","x":6610,"y":64},{"s":"c","x":6640,"y":66},{"s":"c","x":6670,"y":54},{"s":"c","x":6700,"y":36},{"s":"c","x":6730,"y":53},{"s":"c","x":6770,"y":41},{"s":"c","x":6800,"y":44},{"s":"c","x":6830,"y":31},{"s":"c","x":6870,"y":32},{"s":"c","x":6900,"y":40},{"s":"c","x":6930,"y":30},{"s":"c","x":6960,"y":42},{"s":"c","x":6990,"y":19},{"s":"c","x":7030,"y":36},{"s":"c","x":7060,"y":75},{"s":"c","x":7090,"y":86},{"s":"c","x":7130,"y":75},{"s":"c","x":7160,"y":44},{"s":"c","x":7190,"y":23},{"s":"c","x":7220,"y":14},{"s":"c","x":7250,"y":4},{"s":"c","x":7290,"y":1},{"s":"c","x":7320,"y":11},{"s":"c","x":7370,"y":17},{"s":"c","x":7400,"y":19},
{"s":"f","x":90,"y":52},{"s":"f","x":110,"y":51},{"s":"f","x":124,"y":46},{"s":"f","x":134,"y":22},{"s":"f","x":150,"y":20},{"s":"f","x":172,"y":21},{"s":"f","x":190,"y":17},{"s":"f","x":205,"y":8},{"s":"f","x":227,"y":4},{"s":"f","x":260,"y":10},{"s":"f","x":290,"y":10},{"s":"f","x":320,"y":21},{"s":"f","x":350,"y":20},{"s":"f","x":364,"y":6},{"s":"f","x":377,"y":64},{"s":"f","x":400,"y":59},{"s":"f","x":420,"y":55},{"s":"f","x":440,"y":56},{"s":"f","x":455,"y":70},{"s":"f","x":470,"y":54},{"s":"f","x":480,"y":27},{"s":"f","x":495,"y":40},{"s":"f","x":510,"y":48},{"s":"f","x":530,"y":58},{"s":"f","x":560,"y":58},{"s":"f","x":600,"y":66},{"s":"f","x":626,"y":73},{"s":"f","x":640,"y":49},{"s":"f","x":670,"y":47},{"s":"f","x":705,"y":40},{"s":"f","x":737,"y":37},{"s":"f","x":770,"y":26},{"s":"f","x":800,"y":18},{"s":"f","x":830,"y":5},{"s":"f","x":845,"y":47},{"s":"f","x":877,"y":27},{"s":"f","x":893,"y":16},{"s":"f","x":926,"y":3},{"s":"f","x":958,"y":24},{"s":"f","x":990,"y":11},{"s":"f","x":1023,"y":3},{"s":"f","x":1060,"y":1},{"s":"f","x":1100,"y":2},{"s":"f","x":1150,"y":0},{"s":"f","x":1720,"y":0},{"s":"f","x":1750,"y":3},{"s":"f","x":1780,"y":30},{"s":"f","x":1810,"y":40},{"s":"f","x":1840,"y":38},{"s":"f","x":1860,"y":30},{"s":"f","x":1880,"y":25},{"s":"f","x":1910,"y":14},{"s":"f","x":1950,"y":4},{"s":"f","x":1990,"y":3},{"s":"f","x":2050,"y":4},{"s":"f","x":2075,"y":6},{"s":"f","x":2110,"y":16},{"s":"f","x":2150,"y":15},{"s":"f","x":2200,"y":14},{"s":"f","x":2230,"y":2},{"s":"f","x":2260,"y":0},{"s":"f","x":2650,"y":0},{"s":"f","x":2680,"y":8},{"s":"f","x":2710,"y":20},{"s":"f","x":2770,"y":20},{"s":"f","x":2840,"y":16},{"s":"f","x":2870,"y":15},{"s":"f","x":2900,"y":5},{"s":"f","x":2935,"y":0},{"s":"f","x":3190,"y":0},{"s":"f","x":3225,"y":5},{"s":"f","x":3260,"y":14},{"s":"f","x":3290,"y":40},{"s":"f","x":3308,"y":46},{"s":"f","x":3340,"y":38},{"s":"f","x":3360,"y":35},{"s":"f","x":3390,"y":38},{"s":"f","x":3410,"y":30},{"s":"f","x":3420,"y":14},{"s":"f","x":3450,"y":2},{"s":"f","x":3480,"y":0},{"s":"f","x":3700,"y":0},{"s":"f","x":3730,"y":5},{"s":"f","x":3760,"y":5},{"s":"f","x":3790,"y":0},{"s":"f","x":7400,"y":0}
]
},
"bounds":"flush",
"spacing":4,
"resolve":{"scale":{"color":"independent","x":"independent","y":"independent"},"legend":{"color":"independent"}},
"vconcat":[
{
"width":771,"height":75,
"view":{"stroke":null},
"layer":[
{"data":{"name":"utr"},"mark":{"type":"rule","color":"#222","strokeWidth":1.5},
 "encoding":{"x":{"field":"start","type":"quantitative","scale":{"domain":[0,7520],"nice":false,"zero":false},"axis":null},"x2":{"field":"end"},"y":{"datum":0.32,"type":"quantitative","scale":{"domain":[0,1]},"axis":null}}},
{"data":{"name":"genes"},"mark":{"type":"rect","stroke":"#333","strokeWidth":1.2},
 "encoding":{"x":{"field":"start","type":"quantitative"},"x2":{"field":"end"},"y":{"datum":0.04,"type":"quantitative"},"y2":{"datum":0.585},
 "color":{"field":"gene","type":"nominal","scale":{"domain":["VP4","VP2","VP3","VP1","2A","2B","2C","3A","3B","3C","3D"],"range":["#2e3192","#fdfbe3","#f8aee0","#dcdbeb","#3b9ad8","#4dbd4a","#6b8fd0","#d9ef3a","#f2f2a8","#bfe8f6","#d2cdf2"]},"legend":null}}},
{"data":{"name":"genes"},"transform":[{"filter":"indexof(['VP4','2B','3B'], datum.gene) < 0"},{"calculate":"(datum.start+datum.end)/2","as":"mid"}],
 "mark":{"type":"text","color":"#e8336b","fontSize":18,"font":"Liberation Serif","baseline":"middle"},
 "encoding":{"x":{"field":"mid","type":"quantitative"},"y":{"datum":0.31,"type":"quantitative"},"text":{"field":"gene"}}},
{"data":{"name":"genes"},"transform":[{"filter":"indexof(['VP4','2B','3B'], datum.gene) >= 0"},{"calculate":"(datum.start+datum.end)/2","as":"mid"}],
 "mark":{"type":"text","color":"#e8336b","fontSize":18,"font":"Liberation Serif","baseline":"middle"},
 "encoding":{"x":{"field":"mid","type":"quantitative"},"y":{"datum":0.74,"type":"quantitative"},"text":{"field":"gene"}}},
{"data":{"name":"utr"},"transform":[{"filter":"datum.start < 100"}],
 "mark":{"type":"text","color":"#e8336b","fontSize":21,"font":"Liberation Serif","baseline":"middle","align":"center"},
 "encoding":{"x":{"field":"lx","type":"quantitative"},"y":{"datum":0.51,"type":"quantitative"},"text":{"field":"name"}}},
{"data":{"name":"utr"},"transform":[{"filter":"datum.start > 100"}],
 "mark":{"type":"text","color":"#e8336b","fontSize":21,"font":"Liberation Serif","baseline":"middle","align":"left"},
 "encoding":{"x":{"field":"lx","type":"quantitative"},"y":{"datum":0.27,"type":"quantitative"},"text":{"field":"name"}}}
]
},
{
"bounds":"flush",
"spacing":88,
"resolve":{"scale":{"color":"independent","x":"independent","y":"independent"},"legend":{"color":"independent"}},
"vconcat":[
{
"width":771,"height":361,
"data":{"name":"sim"},
"mark":{"type":"line","clip":true,"strokeWidth":2.5},
"title":{"text":"Window:200 bp, Step:20 bp, GapStrip:On, Kimura(2-parameter), T/t:2.0","orient":"bottom","color":"#3b3bb0","dx":43,"offset":2},
"encoding":{
"x":{"field":"x","type":"quantitative","scale":{"domain":[0,7520],"nice":false,"zero":false},
 "axis":{"title":"Position","titlePadding":0,"format":"d","values":[0,100,200,300,400,500,600,700,800,900,1000,1100,1200,1300,1400,1500,1600,1700,1800,1900,2000,2100,2200,2300,2400,2500,2600,2700,2800,2900,3000,3100,3200,3300,3400,3500,3600,3700,3800,3900,4000,4100,4200,4300,4400,4500,4600,4700,4800,4900,5000,5100,5200,5300,5400,5500,5600,5700,5800,5900,6000,6100,6200,6300,6400,6500,6600,6700,6800,6900,7000,7100,7200,7300,7400,7500],
 "labelExpr":"datum.value % 500 === 0 ? datum.label : ''",
 "tickSize":{"condition":{"test":"datum.value % 500 === 0","value":5},"value":3},"labelPadding":-1}},
"y":{"field":"y","type":"quantitative","scale":{"domain":[0.5,1],"nice":false,"zero":false},
 "axis":{"title":"Similarity","titlePadding":8,"format":".2f","values":[0.5,0.51,0.52,0.53,0.54,0.55,0.56,0.57,0.58,0.59,0.6,0.61,0.62,0.63,0.64,0.65,0.66,0.67,0.68,0.69,0.7,0.71,0.72,0.73,0.74,0.75,0.76,0.77,0.78,0.79,0.8,0.81,0.82,0.83,0.84,0.85,0.86,0.87,0.88,0.89,0.9,0.91,0.92,0.93,0.94,0.95,0.96,0.97,0.98,0.99,1],
 "labelExpr":"round(datum.value*100) % 5 === 0 ? datum.label : ''",
 "tickSize":{"condition":{"test":"round(datum.value*100) % 5 === 0","value":6},"value":3},"labelPadding":4}},
"color":{"field":"s","type":"nominal","scale":{"domain":["a","b","c","d","e","f"],"range":["#3e8a30","#f3f36c","#1d1d9a","#9c99c2","#c43fc8","#3a7e96"]},
 "legend":{"orient":"none","legendX":456,"legendY":232,"symbolType":"M-4.2,0H4.2","labelOffset":35,
 "labelExpr":"datum.label == 'a' ? 'Echo6/Hokkaido.JPN/19724/2011' : datum.label == 'b' ? 'Echo30/Zhejiang/17/03/CSF' : datum.label == 'c' ? 'Enterovirus/Yanbian/96-83csf' : datum.label == 'd' ? 'Fuyang19/B3' : datum.label == 'e' ? 'GZ803/B3' : 'SSM-CVB3'"}}
}
},
{
"width":771,"height":359,
"data":{"name":"boot"},
"mark":{"type":"line","clip":true,"strokeWidth":2.5,"interpolate":"step-after"},
"title":{"text":"Window:200bp,Step:20 bp, GapStrip:On, Reps:100, Kimura(2-parameter), T/t:2.0, Neighbor-Joining","orient":"bottom","color":"#e63d96","dx":-8,"offset":5},
"encoding":{
"x":{"field":"x","type":"quantitative","scale":{"domain":[0,7520],"nice":false,"zero":false},
 "axis":{"title":"Position","titlePadding":0,"format":"d","values":[0,100,200,300,400,500,600,700,800,900,1000,1100,1200,1300,1400,1500,1600,1700,1800,1900,2000,2100,2200,2300,2400,2500,2600,2700,2800,2900,3000,3100,3200,3300,3400,3500,3600,3700,3800,3900,4000,4100,4200,4300,4400,4500,4600,4700,4800,4900,5000,5100,5200,5300,5400,5500,5600,5700,5800,5900,6000,6100,6200,6300,6400,6500,6600,6700,6800,6900,7000,7100,7200,7300,7400,7500],
 "labelExpr":"datum.value % 500 === 0 ? datum.label : ''",
 "tickSize":{"condition":{"test":"datum.value % 500 === 0","value":5},"value":3},"labelPadding":-1}},
"y":{"field":"y","type":"quantitative","scale":{"domain":[-2.9,102.3],"nice":false,"zero":false},
 "axis":{"title":"% of Permuted Trees","titlePadding":8,"format":"d","values":[0,2,4,6,8,10,12,14,16,18,20,22,24,26,28,30,32,34,36,38,40,42,44,46,48,50,52,54,56,58,60,62,64,66,68,70,72,74,76,78,80,82,84,86,88,90,92,94,96,98,100],
 "labelExpr":"datum.value % 10 === 0 ? datum.label : ''",
 "tickSize":{"condition":{"test":"datum.value % 10 === 0","value":6},"value":3},"labelPadding":4}},
"color":{"field":"s","type":"nominal","scale":{"domain":["a","b","c","d","e","f"],"range":["#2f8a2f","#f6f65a","#1d1d9a","#9c99c2","#cc44cc","#2b8a8c"]},
 "legend":{"orient":"none","legendX":136,"legendY":8,"symbolType":"M-3.25,0H3.25","labelOffset":27,"fillColor":"white",
 "labelExpr":"datum.label == 'a' ? 'Echo6/Hokkaido.JPN/19724/2011' : datum.label == 'b' ? 'Echo30/Zhejiang/17/03/CSF' : datum.label == 'c' ? 'Enterovirus/Yanbian/96-83csf' : datum.label == 'd' ? 'Fuyang19/B3' : datum.label == 'e' ? 'GZ803/B3' : 'SSM-CVB3'"}}
}
}
]
}
]
}
